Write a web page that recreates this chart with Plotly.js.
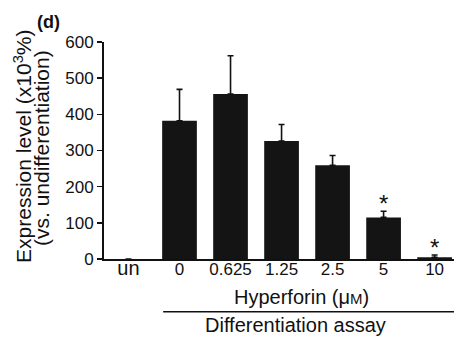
<!DOCTYPE html>
<html><head><meta charset="utf-8">
<script src="https://cdn.plot.ly/plotly-3.0.1.min.js"></script>
<style>html,body{margin:0;padding:0;background:#fff}#chart{width:454px;height:340px}</style>
</head><body><div id="chart"></div>
<script>
var categories = ["un", "0", "0.625", "1.25", "2.5", "5", "10"];
var values = [0, 382, 456, 326, 259, 115, 5];
var errorsUp = [null, 87, 106, 46, 27, 17, 6];
var significant = [false, false, false, false, false, true, true];
var yTicks = [0, 100, 200, 300, 400, 500, 600];

var F = '"Liberation Sans", Arial, sans-serif';
var idx = categories.map(function(c, i){ return i; });
var tickText = categories.map(function(c){
  return c === "un" ? '<span style="font-size:20px">' + c + '</span>' : c;
});

var trace = {
  type: 'bar',
  x: idx,
  y: values,
  width: 0.68,
  marker: {color: '#141414', line: {width: 0}},
  error_y: {type: 'data', symmetric: false, array: errorsUp,
            arrayminus: errorsUp.map(function(e){ return e === null ? null : 0; }),
            color: '#111', thickness: 1.6, width: 3, visible: true},
  hoverinfo: 'none'
};

var annotations = [];
idx.forEach(function(i){
  if (significant[i]) {
    annotations.push({x: i, y: values[i] + errorsUp[i], xref: 'x', yref: 'y', text: '*',
      showarrow: false, yanchor: 'bottom', yshift: -8, font: {family: F, size: 24, color: '#111'}});
  }
});
annotations.push({x: -0.16, y: 1.092, xref: 'paper', yref: 'paper', xanchor: 'center', yanchor: 'middle',
  text: '<b>(d)</b>', showarrow: false, font: {family: F, size: 18, color: '#111'}});
annotations.push({x: -0.232, y: 0.52, xref: 'paper', yref: 'paper', xanchor: 'center', yanchor: 'middle',
  textangle: -90, text: 'Expression level (x10<sup>3</sup>%)', showarrow: false,
  font: {family: F, size: 21, color: '#111'}});
annotations.push({x: -0.178, y: 0.51, xref: 'paper', yref: 'paper', xanchor: 'center', yanchor: 'middle',
  textangle: -90, text: '(vs. undifferentiation)', showarrow: false,
  font: {family: F, size: 21, color: '#111'}});
annotations.push({x: 0.563, y: -0.175, xref: 'paper', yref: 'paper', xanchor: 'center', yanchor: 'middle',
  text: 'Hyperforin (μ<span style="font-size:15px">M</span>)', showarrow: false, font: {family: F, size: 20, color: '#111'}});
annotations.push({x: 0.546, y: -0.306, xref: 'paper', yref: 'paper', xanchor: 'center', yanchor: 'middle',
  text: 'Differentiation assay', showarrow: false, font: {family: F, size: 20, color: '#111'}});

var layout = {
  width: 454, height: 340,
  margin: {l: 104, r: 0, t: 42, b: 81},
  paper_bgcolor: '#fff', plot_bgcolor: '#fff',
  showlegend: false,
  font: {family: F, color: '#111'},
  xaxis: {
    range: [-0.48, 6.38],
    tickvals: idx, ticktext: tickText,
    showgrid: false, zeroline: false,
    showline: true, linecolor: '#111', linewidth: 2,
    ticks: '', ticklabelstandoff: -6, tickfont: {family: F, size: 17, color: '#111'},
    fixedrange: true
  },
  yaxis: {
    range: [0, 600],
    tickvals: yTicks,
    showgrid: false, zeroline: false,
    showline: true, linecolor: '#111', linewidth: 2,
    ticks: 'outside', ticklen: 5, tickwidth: 1.5, tickcolor: '#111',
    tickfont: {family: F, size: 17, color: '#111'},
    fixedrange: true
  },
  shapes: [{type: 'line', xref: 'paper', yref: 'paper', x0: 0.169, x1: 1, y0: -0.243, y1: -0.243,
            line: {color: '#111', width: 1.5}}],
  annotations: annotations
};

Plotly.newPlot('chart', [trace], layout, {displayModeBar: false, staticPlot: true});
</script></body></html>
